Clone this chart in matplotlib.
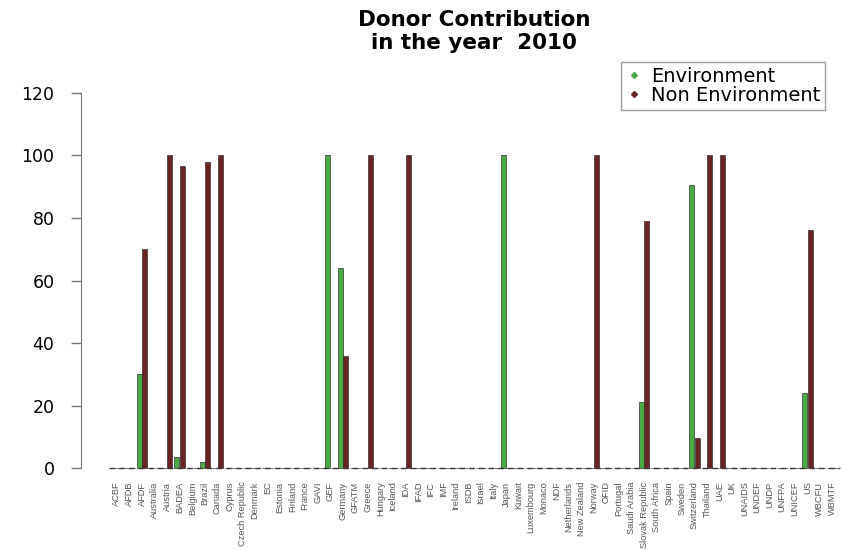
import numpy as np
import matplotlib.pyplot as plt

plt.rcParams['font.family'] = ['DejaVu Sans']

donors = ["ACBF", "AFDB", "AFDF", "Australia", "Austria", "BADEA", "Belgium", "Brazil",
          "Canada", "Cyprus", "Czech Republic", "Denmark", "EC", "Estonia", "Finland",
          "France", "GAVI", "GEF", "Germany", "GFATM", "Greece", "Hungary", "Iceland",
          "IDA", "IFAD", "IFC", "IMF", "Ireland", "ISDB", "Israel", "Italy", "Japan",
          "Kuwait", "Luxembourg", "Monaco", "NDF", "Netherlands", "New Zealand", "Norway",
          "OFID", "Portugal", "Saudi Arabia", "Slovak Republic", "South Africa", "Spain",
          "Sweden", "Switzerland", "Thailand", "UAE", "UK", "UNAIDS", "UNDEF", "UNDP",
          "UNFPA", "UNICEF", "US", "WBCFU", "WBMTF"]

# percentage of contribution (environment / non environment)
env_vals = {"AFDF": 30, "BADEA": 3.5, "Brazil": 2, "GEF": 100, "Germany": 64,
            "Japan": 100, "Slovak Republic": 21, "Switzerland": 90.5, "US": 24}
nonenv_vals = {"AFDF": 70, "Austria": 100, "BADEA": 96.5, "Brazil": 98, "Canada": 100,
               "Germany": 36, "Greece": 100, "IDA": 100, "Norway": 100,
               "Slovak Republic": 79, "Switzerland": 9.5, "Thailand": 100, "UAE": 100,
               "US": 76}

environment = [env_vals.get(d, 0) for d in donors]
non_environment = [nonenv_vals.get(d, 0) for d in donors]

green = "#4aab44"
darkred = "#6b2424"

fig = plt.figure(figsize=(8.61, 5.5), dpi=100)
ax = fig.add_axes([0.094, 0.132, 0.888, 0.716])

x = np.arange(len(donors))
w = 0.4
ax.bar(x - 0.22, environment, width=w, color=green, edgecolor="#333333", linewidth=0.5)
ax.bar(x + 0.22, non_environment, width=w, color=darkred, edgecolor="#333333", linewidth=0.5)
ax.hlines(0, -0.6, 57.6, colors="#333333", linestyles=(0, (4, 3)), linewidth=1)

ax.set_xlim(-2.87, 58.04)
ax.set_ylim(-3, 123)
ax.set_yticks([0, 20, 40, 60, 80, 100, 120])
ax.set_xticks(x)
ax.set_xticklabels(donors, rotation=90, fontsize=6.7, color="#555555",
                   family=['Liberation Sans', 'DejaVu Sans'])
ax.tick_params(axis="x", length=0, pad=3)
ax.tick_params(axis="y", length=7, width=1, color="#777777", pad=12, labelsize=12.5)
for s in ["top", "right", "bottom"]:
    ax.spines[s].set_visible(False)
ax.spines["left"].set_bounds(0, 120)
ax.spines["left"].set_color("#777777")

fig.text(0.551, 0.982, "Donor Contribution\nin the year  2010", ha="center", va="top",
         fontsize=15.5, fontweight="bold", linespacing=1.2)

h1 = plt.Line2D([], [], marker="D", markersize=3, color=green, linestyle="none")
h2 = plt.Line2D([], [], marker="D", markersize=3, color=darkred, linestyle="none")
leg = fig.legend([h1, h2], ["Environment", "Non Environment"], loc="upper left",
                 bbox_to_anchor=(621 / 861, 1 - 62 / 550), fontsize=14, frameon=True,
                 fancybox=False, edgecolor="#888888", handlelength=0.8, handletextpad=0.5,
                 borderpad=0.25, labelspacing=0.0, borderaxespad=0)
leg.get_frame().set_linewidth(1)

fig.savefig("out.png", dpi=100)
